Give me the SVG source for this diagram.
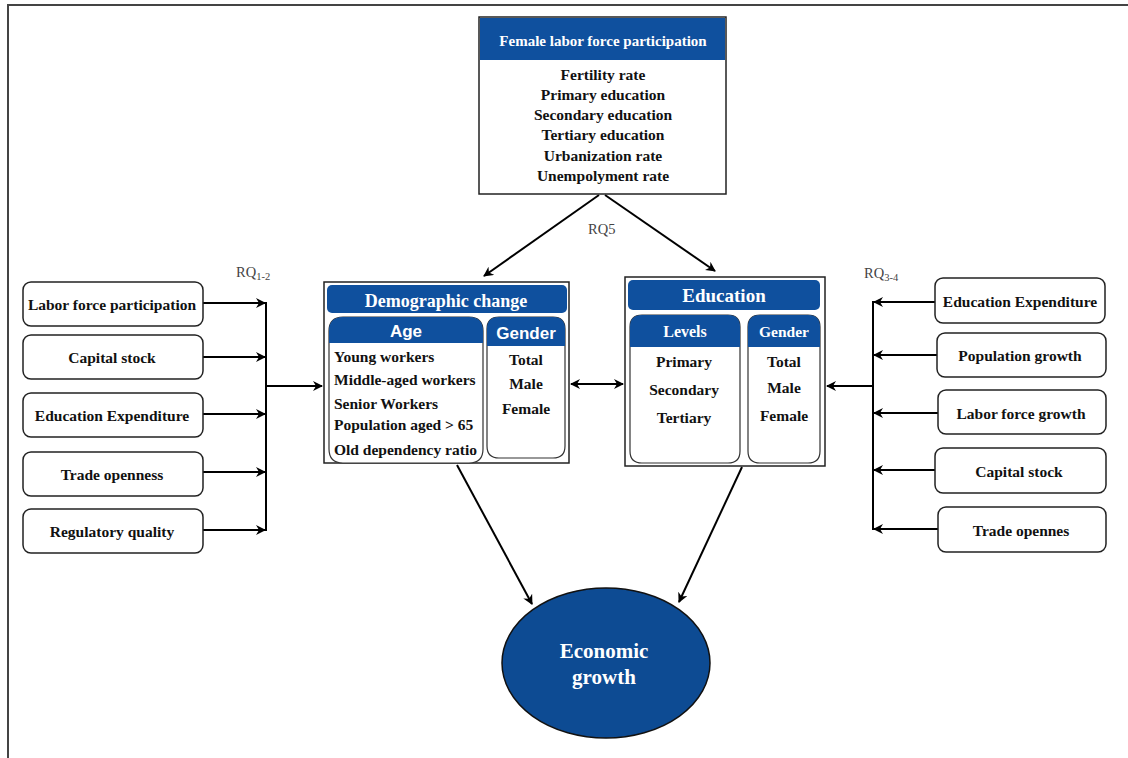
<svg xmlns="http://www.w3.org/2000/svg" width="1128" height="758" viewBox="0 0 1128 758">
<defs>
<marker id="ah" viewBox="0 0 10 10" refX="9" refY="5" markerWidth="5" markerHeight="5" markerUnits="strokeWidth" orient="auto-start-reverse">
<path d="M0,0 L10,5 L0,10 L3,5 z" fill="#000"/>
</marker>
<style>
.bx{fill:#fff;stroke:#222;stroke-width:1.5}
.hd{fill:#0f509e;stroke:none}
.sub{fill:#fff;stroke:#333;stroke-width:1.2}
.t{font-family:"Liberation Serif",serif;font-weight:bold;font-size:15.5px;fill:#111;text-anchor:middle}
.tl{font-family:"Liberation Serif",serif;font-weight:bold;font-size:15.5px;fill:#111}
.w{font-family:"Liberation Serif",serif;font-weight:bold;fill:#fff;text-anchor:middle}
.ws{font-family:"Liberation Sans",sans-serif;font-weight:bold;fill:#fff;text-anchor:middle;font-size:17px}
.c{stroke:#000;stroke-width:2;fill:none}
.rq{font-family:"Liberation Serif",serif;font-size:14.5px;fill:#444}
</style>
</defs>
<rect width="1128" height="758" fill="#fff"/>
<path d="M8,758 V5 H1128" fill="none" stroke="#444" stroke-width="2"/>

<g id="connectors">
<line class="c" x1="599" y1="195" x2="484" y2="276" marker-end="url(#ah)"/>
<line class="c" x1="605" y1="195" x2="715" y2="271" marker-end="url(#ah)"/>
<line class="c" x1="203" y1="303" x2="265" y2="303" marker-end="url(#ah)"/>
<line class="c" x1="203" y1="357" x2="265" y2="357" marker-end="url(#ah)"/>
<line class="c" x1="203" y1="414" x2="265" y2="414" marker-end="url(#ah)"/>
<line class="c" x1="203" y1="472" x2="265" y2="472" marker-end="url(#ah)"/>
<line class="c" x1="203" y1="530" x2="265" y2="530" marker-end="url(#ah)"/>
<line class="c" x1="266" y1="302" x2="266" y2="531"/>
<line class="c" x1="266" y1="386" x2="322" y2="386" marker-end="url(#ah)"/>
<line class="c" x1="935" y1="302" x2="874" y2="302" marker-end="url(#ah)"/>
<line class="c" x1="937" y1="355" x2="874" y2="355" marker-end="url(#ah)"/>
<line class="c" x1="938" y1="413" x2="874" y2="413" marker-end="url(#ah)"/>
<line class="c" x1="935" y1="470" x2="874" y2="470" marker-end="url(#ah)"/>
<line class="c" x1="938" y1="529" x2="874" y2="529" marker-end="url(#ah)"/>
<line class="c" x1="873" y1="301" x2="873" y2="530"/>
<line class="c" x1="873" y1="386" x2="827" y2="386" marker-end="url(#ah)"/>
<line class="c" x1="571" y1="384" x2="623" y2="384" marker-start="url(#ah)" marker-end="url(#ah)"/>
<line class="c" x1="457" y1="465" x2="532" y2="604" marker-end="url(#ah)"/>
<line class="c" x1="742" y1="467" x2="679" y2="602" marker-end="url(#ah)"/>
<text class="rq" x="588" y="234">RQ5</text>
<text class="rq" x="236" y="277">RQ<tspan font-size="10.5" dy="3">1-2</tspan></text>
<text class="rq" x="864" y="278">RQ<tspan font-size="10.5" dy="3">3-4</tspan></text>
</g>

<g id="flfp">
<rect class="bx" x="479" y="17" width="247" height="177"/>
<rect class="hd" x="480" y="18" width="245" height="42"/>
<text class="w" x="603" y="46" font-size="15">Female labor force participation</text>
<text class="t" x="603" y="80">Fertility rate</text>
<text class="t" x="603" y="100">Primary education</text>
<text class="t" x="603" y="120">Secondary education</text>
<text class="t" x="603" y="140">Tertiary education</text>
<text class="t" x="603" y="161">Urbanization rate</text>
<text class="t" x="603" y="181">Unempolyment rate</text>
</g>

<g id="demographic">
<rect class="bx" x="324" y="282" width="245" height="181"/>
<rect class="hd" x="327" y="285" width="240" height="28" rx="5"/>
<text class="w" x="446" y="307" font-size="18">Demographic change</text>
<path class="sub" d="M343,317 H469 Q483,317 483,331 V449 Q483,463 469,463 H343 Q329,463 329,449 V331 Q329,317 343,317 Z"/>
<path class="hd" d="M343,317 H469 Q483,317 483,331 V343 H329 V331 Q329,317 343,317 Z"/>
<text class="ws" x="406" y="337">Age</text>
<text class="tl" x="334" y="362">Young workers</text>
<text class="tl" x="334" y="385">Middle-aged workers</text>
<text class="tl" x="334" y="409">Senior Workers</text>
<text class="tl" x="334" y="430">Population aged &gt; 65</text>
<text class="tl" x="334" y="455">Old dependency ratio</text>
<path class="sub" d="M499,317 H553 Q565,317 565,329 V446 Q565,458 553,458 H499 Q487,458 487,446 V329 Q487,317 499,317 Z"/>
<path class="hd" d="M499,317 H553 Q565,317 565,329 V346 H487 V329 Q487,317 499,317 Z"/>
<text class="ws" x="526" y="339">Gender</text>
<text class="t" x="526" y="365">Total</text>
<text class="t" x="526" y="389">Male</text>
<text class="t" x="526" y="414">Female</text>
</g>

<g id="education">
<rect class="bx" x="625" y="277" width="200" height="189"/>
<rect class="hd" x="628" y="280" width="192" height="30" rx="5"/>
<text class="w" x="724" y="302" font-size="19">Education</text>
<path class="sub" d="M642,315 H728 Q740,315 740,327 V451 Q740,463 728,463 H642 Q630,463 630,451 V327 Q630,315 642,315 Z"/>
<path class="hd" d="M642,315 H728 Q740,315 740,327 V347 H630 V327 Q630,315 642,315 Z"/>
<text class="w" x="685" y="337" font-size="16">Levels</text>
<text class="t" x="684" y="367">Primary</text>
<text class="t" x="684" y="395">Secondary</text>
<text class="t" x="684" y="423">Tertiary</text>
<path class="sub" d="M760,315 H808 Q820,315 820,327 V451 Q820,463 808,463 H760 Q748,463 748,451 V327 Q748,315 760,315 Z"/>
<path class="hd" d="M760,315 H808 Q820,315 820,327 V347 H748 V327 Q748,315 760,315 Z"/>
<text class="w" x="784" y="337" font-size="15.5">Gender</text>
<text class="t" x="784" y="367">Total</text>
<text class="t" x="784" y="393">Male</text>
<text class="t" x="784" y="421">Female</text>
</g>

<g id="l1"><rect class="bx" x="23" y="282" width="180" height="44" rx="8"/><text class="t" x="112" y="310">Labor force participation</text></g>
<g id="l2"><rect class="bx" x="23" y="335" width="180" height="44" rx="8"/><text class="t" x="112" y="363">Capital stock</text></g>
<g id="l3"><rect class="bx" x="23" y="393" width="180" height="44" rx="8"/><text class="t" x="112" y="421">Education Expenditure</text></g>
<g id="l4"><rect class="bx" x="23" y="452" width="180" height="44" rx="8"/><text class="t" x="112" y="480">Trade openness</text></g>
<g id="l5"><rect class="bx" x="23" y="509" width="180" height="44" rx="8"/><text class="t" x="112" y="537">Regulatory quality</text></g>

<g id="r1"><rect class="bx" x="935" y="278" width="170" height="45" rx="8"/><text class="t" x="1020" y="307">Education Expenditure</text></g>
<g id="r2"><rect class="bx" x="937" y="333" width="169" height="44" rx="8"/><text class="t" x="1020" y="361">Population growth</text></g>
<g id="r3"><rect class="bx" x="938" y="390" width="168" height="44" rx="8"/><text class="t" x="1021" y="419">Labor force growth</text></g>
<g id="r4"><rect class="bx" x="935" y="448" width="171" height="45" rx="8"/><text class="t" x="1019" y="477">Capital stock</text></g>
<g id="r5"><rect class="bx" x="938" y="507" width="168" height="45" rx="8"/><text class="t" x="1021" y="536">Trade opennes</text></g>

<g id="growth">
<ellipse cx="606" cy="663" rx="104" ry="75" fill="#0d4b93" stroke="#111" stroke-width="1.5"/>
<text class="w" x="604" y="658" font-size="21">Economic</text>
<text class="w" x="604" y="684" font-size="21">growth</text>
</g>
</svg>
